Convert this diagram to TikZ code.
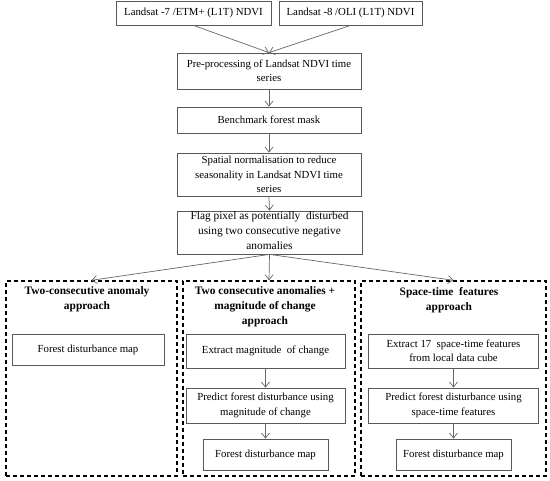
\documentclass[tikz,border=0pt]{standalone}
\usepackage{fontspec}
\setmainfont{Liberation Serif}
\usetikzlibrary{arrows.meta}

\begin{document}
\begin{tikzpicture}[x=1pt,y=-1pt,
  box/.style={draw=black!65,line width=0.8pt,align=center,inner sep=0pt,font=\fontsize{10.8}{14.5}\selectfont},
  group/.style={draw,line width=1.4pt,dash pattern=on 4pt off 3pt},
  title/.style={align=center,font=\fontsize{11.4}{15}\selectfont\bfseries},
  >={Straight Barb[length=5pt,width=8pt]},
  arrow/.style={->,color=black!60,line width=0.7pt}]
\useasboundingbox (0,0) rectangle (550,481);
% input data
\node[box,minimum width=155,minimum height=24] (l7)   at (193.5,13)  {Landsat -7 /ETM+ (L1T) NDVI};
\node[box,minimum width=143,minimum height=24] (l8)   at (350.5,13)  {Landsat -8 /OLI (L1T) NDVI};
% common steps
\node[box,minimum width=184,minimum height=36] (pre)  at (269,71)    {Pre-processing of Landsat NDVI time\\series};
\node[box,minimum width=184,minimum height=26] (mask) at (269,120)   {Benchmark forest mask};
\node[box,minimum width=184,minimum height=43] (norm) at (269,174.5) {Spatial normalisation to reduce\\seasonality in Landsat NDVI time\\series};
\node[box,minimum width=185,minimum height=43,font=\fontsize{11.4}{15}\selectfont,text depth=3pt] (flag) at (269.5,232.5)
  {Flag pixel as potentially\ \ disturbed\\using two consecutive negative\\anomalies};
% approaches
\node[group,minimum width=171,minimum height=195] (appA) at (91.5,378.5) {};
\node[group,minimum width=172,minimum height=195] (appB) at (269,378.5)  {};
\node[group,minimum width=185,minimum height=195] (appC) at (453.5,378.5) {};
\node[title] (tA) at (87,299.5)  {Two-consecutive anomaly\\approach};
\node[title] (tB) at (265,307)   {Two consecutive anomalies +\\magnitude of change\\approach};
\node[title] (tC) at (449,300)   {Space-time\ \ features\\approach};
% two-consecutive anomaly
\node[box,minimum width=152,minimum height=31] (mapA) at (88,349.5)    {Forest disturbance map};
% magnitude of change
\node[box,minimum width=159,minimum height=34] (mag)  at (265.5,351)   {Extract magnitude\ \ of change};
\node[box,minimum width=159,minimum height=35] (prdB) at (265.5,405.5) {Predict forest disturbance using\\magnitude of change};
\node[box,minimum width=125,minimum height=31] (mapB) at (265.5,454.5) {Forest disturbance map};
% space-time features
\node[box,minimum width=170,minimum height=34] (ext)  at (453.5,351)   {Extract 17\ \ space-time features\\from local data cube};
\node[box,minimum width=170,minimum height=35] (prdC) at (453.5,405.5) {Predict forest disturbance using\\space-time features};
\node[box,minimum width=115,minimum height=31] (mapC) at (453.5,454.5) {Forest disturbance map};
% connectors
\path[arrow] (l7.south)   edge (pre.north)
             (l8.south)   edge (pre.north)
             (pre.south)  edge (mask.north)
             (mask.south) edge (norm.north)
             (norm.south) edge (flag.north)
             (flag.south) edge (appA.north)
                          edge (appB.north)
                          edge (appC.north)
             (mag.south)  edge (prdB.north)
             (prdB.south) edge (mapB.north)
             (ext.south)  edge (prdC.north)
             (prdC.south) edge (mapC.north);
\end{tikzpicture}
\end{document}
